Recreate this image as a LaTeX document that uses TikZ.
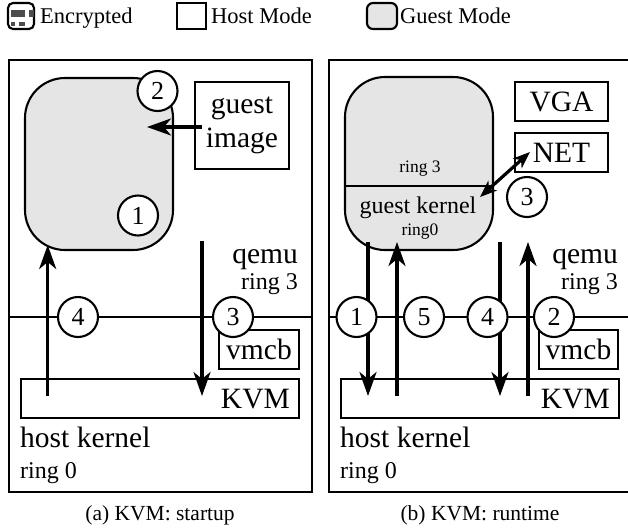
\documentclass[tikz,border=0pt]{standalone}
\usepackage{fontspec}
\setmainfont{Liberation Serif}
\usetikzlibrary{arrows.meta}
\begin{document}
\begin{tikzpicture}[x=1pt,y=-1pt,
  frame/.style={line width=2.1pt},
  box/.style={draw, line width=2.1pt, inner sep=0pt, font=\fontsize{29.5}{34}\selectfont},
  guest/.style={draw, line width=2.1pt, fill=gray!20, rounded corners=40pt, inner sep=0pt},
  num/.style={circle, draw, fill=white, line width=2.1pt, minimum size=40pt, inner sep=0pt, font=\fontsize{26}{26}\selectfont},
  big/.style={font=\fontsize{29.5}{30}\selectfont, inner sep=0pt},
  mid/.style={font=\fontsize{24}{24}\selectfont, inner sep=0pt},
  tiny/.style={font=\fontsize{17.5}{18}\selectfont, inner sep=0pt},
  leg/.style={font=\fontsize{22.5}{23}\selectfont, inner sep=0pt, anchor=base west},
  captxt/.style={font=\fontsize{21.5}{22}\selectfont, inner sep=0pt, anchor=base},
  arr/.style={line width=3.2pt, -{Stealth[length=24pt,width=17pt,inset=7pt]}},
  darr/.style={line width=3.2pt, {Stealth[length=17pt,width=13pt,inset=5pt]}-{Stealth[length=17pt,width=13pt,inset=5pt]}}
]
\useasboundingbox (0,0) rectangle (628,531);

% ---------- legend ----------
\node[draw, line width=2.1pt, rounded corners=5pt, minimum width=26pt, minimum height=26pt, inner sep=0pt] (lenc) at (21,16) {};
\fill[gray!60!black] (11,10) rectangle (25,17);
\fill[gray!60!black] (29,10) rectangle (33.5,17);
\fill[gray!60!black] (11,22) rectangle (15,26);
\fill[gray!60!black] (19,22) rectangle (25,26);
\node[leg] (tenc) at (40,23) {Encrypted};
\node[draw, line width=2.1pt, minimum width=29pt, minimum height=26pt, inner sep=0pt] (lhost) at (191.5,16) {};
\node[leg] (thost) at (211,23) {Host Mode};
\node[draw, line width=2.1pt, rounded corners=6pt, fill=gray!20, minimum width=30pt, minimum height=26pt, inner sep=0pt] (lguest) at (382,16) {};
\node[leg] (tguest) at (400,23) {Guest Mode};

% ---------- panel (a) ----------
\draw[frame] (9,60) rectangle (312,492);
\draw[frame] (9,317) -- (312,317);
\node[guest, minimum width=148pt, minimum height=172pt] (ga) at (99,164) {};
\node[box, minimum width=94pt, minimum height=87pt, align=center] (gi) at (242,125.5) {guest\\image};
\coordinate (gatip) at (147,127);
\draw[arr] ([xshift=8pt,yshift=-1.5pt]gi.west) -- (gatip);
\node[num] (a2) at (157.5,91) {2};
\node[num] (a1) at (138,215.5) {1};
\node[big, anchor=base east] (aqemu) at (298,263) {qemu};
\node[mid, anchor=base east] (aring3) at (298,289) {ring 3};
\node[box, minimum width=80pt, minimum height=39pt] (avmcb) at (259,349.5) {vmcb};
\node[draw, line width=2.1pt, minimum width=278pt, minimum height=39pt, inner sep=0pt] (akvm) at (160,398.5) {};
\node[big, anchor=base east] (akvmt) at (290,408) {KVM};
\coordinate (aq1) at (202,241);
\coordinate (ak1) at (202,396);
\draw[arr] (aq1) -- (ak1);
\coordinate (ak4) at (47.7,396);
\coordinate (ag4) at (47.7,245);
\draw[arr] (ak4) -- (ag4);
\node[num] (a3) at (233,317) {3};
\node[num] (a4) at (78,317) {4};
\node[big, anchor=base west] (ahk) at (20,447) {host kernel};
\node[mid, anchor=base west] (ar0) at (20,478) {ring 0};
\node[captxt] (capa) at (160,520) {(a) KVM: startup};

% ---------- panel (b) ----------
\draw[frame] (632,60) -- (329,60) -- (329,492) -- (632,492);
\draw[frame] (329,317) -- (632,317);
\node[guest, minimum width=148pt, minimum height=173pt] (gb) at (419,163.5) {};
\draw[line width=2.1pt] (gb.west |- 0,186) -- (gb.east |- 0,186);
\node[tiny, anchor=base] (br3) at (420,172) {ring 3};
\node[mid, anchor=base] (bgk) at (418,213) {guest kernel};
\node[tiny, anchor=base] (br0) at (420,235) {ring0};
\node[box, minimum width=93pt, minimum height=39pt] (vga) at (561.5,101.5) {VGA};
\node[box, minimum width=93pt, minimum height=39pt] (net) at (561.5,152.5) {NET};
\coordinate (gkend) at (480,197);
\coordinate (netend) at (530,152);
\draw[darr] (gkend) -- (netend);
\node[num] (b3) at (527,197) {3};
\node[big, anchor=base east] (bqemu) at (618,263) {qemu};
\node[mid, anchor=base east] (bring3) at (618,289) {ring 3};
\node[box, minimum width=79pt, minimum height=39pt] (bvmcb) at (578.5,349.5) {vmcb};
\node[draw, line width=2.1pt, minimum width=278pt, minimum height=39pt, inner sep=0pt] (bkvm) at (480,398.5) {};
\node[big, anchor=base east] (bkvmt) at (610,408) {KVM};
\coordinate (bt1) at (368,242); \coordinate (bb1) at (368,396);
\coordinate (bt5) at (397,242); \coordinate (bb5) at (397,396);
\coordinate (bt4) at (500,242); \coordinate (bb4) at (500,396);
\coordinate (bt2) at (528,242); \coordinate (bb2) at (528,396);
\draw[arr] (bt1) -- (bb1);
\draw[arr] (bb5) -- (bt5);
\draw[arr] (bt4) -- (bb4);
\draw[arr] (bb2) -- (bt2);
\node[num] (b1) at (356.5,317) {1};
\node[num] (b5) at (424,317) {5};
\node[num] (b4) at (487.5,317) {4};
\node[num] (b2) at (554,317) {2};
\node[big, anchor=base west] (bhk) at (340,447) {host kernel};
\node[mid, anchor=base west] (br0b) at (340,478) {ring 0};
\node[captxt] (capb) at (480,520) {(b) KVM: runtime};
\end{tikzpicture}
\end{document}
